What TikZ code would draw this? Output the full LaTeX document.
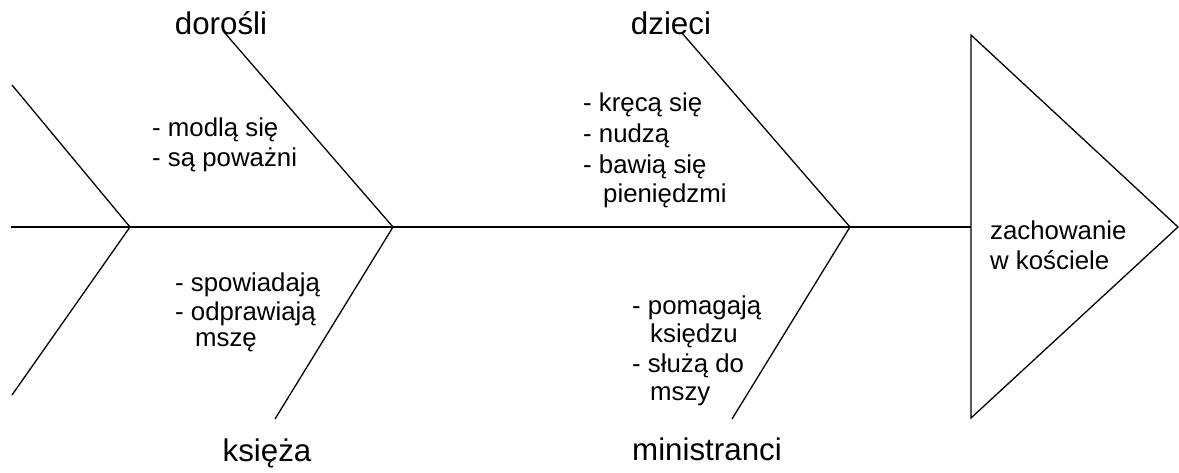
\documentclass[tikz,border=0pt]{standalone}
\usepackage{fontspec}
\setmainfont{Liberation Sans}
\begin{document}
\begin{tikzpicture}[x=1pt,y=-1pt,
  bone/.style={draw=black,line width=1.3pt,line join=miter},
  item/.style={anchor=base west,inner sep=0pt,font=\fontsize{25.8}{30}\selectfont},
  cat/.style={anchor=base,inner sep=0pt,font=\fontsize{31.3}{36}\selectfont}]
\useasboundingbox (0,0) rectangle (1179,473);
% coordinates
\coordinate (mainS) at (11,227);
\coordinate (tailU) at (12,85);
\coordinate (tailJ) at (130,227);
\coordinate (tailL) at (12,395);
\coordinate (adU) at (224,32);
\coordinate (adJ) at (393,227);
\coordinate (prL) at (275,419);
\coordinate (chU) at (682,33);
\coordinate (chJ) at (850,227);
\coordinate (miL) at (732,419);
\coordinate (triT) at (971,35);
\coordinate (triB) at (971,418);
\coordinate (triTip) at (1178,227);
\coordinate (triM) at (971,227);
% bones
\draw[bone] (mainS) -- (triM);
\draw[bone] (tailU) -- (tailJ) -- (tailL);
\draw[bone] (adU) -- (adJ) -- (prL);
\draw[bone] (chU) -- (chJ) -- (miL);
\draw[bone] (triT) -- (triTip) -- (triB) -- cycle;
% category labels
\node[cat] (dorosli) at (221,35) {dorośli};
\node[cat] (dzieci) at (671,35) {dzieci};
\node[cat] (ksieza) at (267,461) {księża};
\node[cat,anchor=base west] (ministranci) at (632,460) {ministranci};
% adults
\node[item] (a1) at (152,137) {- modlą się};
\node[item] (a2) at (152,167) {- są poważni};
% priests
\node[item] (p1) at (175,292) {- spowiadają};
\node[item] (p2) at (175,320) {- odprawiają};
\node[item] (p3) at (195,347) {mszę};
% children
\node[item] (c1) at (583,112) {- kręcą się};
\node[item] (c2) at (583,143) {- nudzą};
\node[item] (c3) at (583,174) {- bawią się};
\node[item] (c4) at (603,203) {pieniędzmi};
% altar servers
\node[item] (m1) at (632,315) {- pomagają};
\node[item] (m2) at (650,342) {księdzu};
\node[item] (m3) at (632,372) {- służą do};
\node[item] (m4) at (650,400) {mszy};
% effect
\node[item] (e1) at (990,240) {zachowanie};
\node[item] (e2) at (990,270) {w kościele};
\end{tikzpicture}
\end{document}
